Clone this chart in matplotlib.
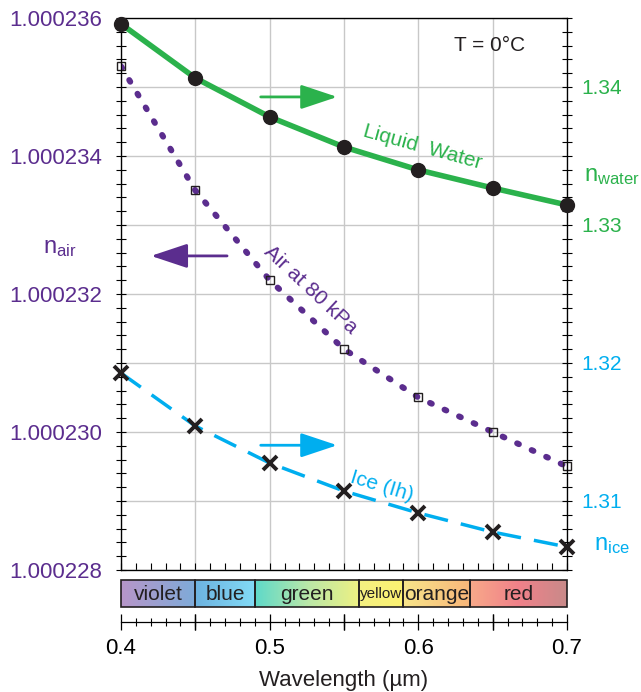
import numpy as np
import matplotlib
matplotlib.use('Agg')
import matplotlib.pyplot as plt
from matplotlib.patches import Rectangle
from matplotlib.ticker import MultipleLocator, FuncFormatter, FormatStrFormatter
from matplotlib.colors import LinearSegmentedColormap

plt.rcParams['font.family'] = ['Liberation Sans', 'DejaVu Sans']
plt.rcParams['mathtext.fontset'] = 'custom'
plt.rcParams['mathtext.rm'] = 'Liberation Sans'
plt.rcParams['mathtext.it'] = 'Liberation Sans'

### Data ###

wavelength = [0.40, 0.45, 0.50, 0.55, 0.60, 0.65, 0.70]

# refractive index of air at 80 kPa (left axis)
n_air = [1.0002353, 1.0002335, 1.0002322, 1.0002312, 1.0002305, 1.0002300, 1.0002295]

# liquid water and ice (right axis)
n_water = [1.34457, 1.34065, 1.33783, 1.33565, 1.33399, 1.33268, 1.33145]
n_ice = [1.31927, 1.31543, 1.31275, 1.31072, 1.30913, 1.30775, 1.30667]

# visible colour bands
band_names = ['violet', 'blue', 'green', 'yellow', 'orange', 'red']
band_edges = [0.40, 0.45, 0.49, 0.56, 0.59, 0.635, 0.70]
band_colors = [['#b796c9', '#7eabd9'],
               ['#6db3e0', '#82daf6'],
               ['#5fd9c9', '#b9e7a8', '#eef183'],
               ['#f4f082', '#fdf271'],
               ['#f8e58a', '#f8b67a'],
               ['#f8a98a', '#f08189', '#c98a8a']]

purple = '#5b2d8e'
green = '#2bb24c'
cyan = '#00aeef'
grid_c = '#c8c8c8'
dark = '#231f20'

### Figure ###

fig = plt.figure(figsize=(6.41, 6.92), dpi=100)
ax = fig.add_axes([0.1888, 0.1763, 0.6958, 0.7977])
ax2 = ax.twinx()

ax.set_xlim(0.4, 0.7)
ax.set_ylim(1.000228, 1.000236)
ax2.set_ylim(1.305, 1.345)

# grid
ax.xaxis.set_major_locator(MultipleLocator(0.05))
ax.xaxis.set_minor_locator(MultipleLocator(0.01))
ax.yaxis.set_major_locator(MultipleLocator(0.000001))
ax.yaxis.set_minor_locator(MultipleLocator(0.0000002))
ax.grid(True, which='major', color=grid_c, lw=1.0)
ax.set_axisbelow(True)
ax.tick_params(axis='x', which='both', direction='in', labelbottom=False, length=5, width=0.8)

def left_fmt(v, pos):
    k = int(round((v - 1.0) * 1e6))
    if k % 2 == 0:
        return '%.6f' % v
    return ''

ax.yaxis.set_major_formatter(FuncFormatter(left_fmt))
ax.tick_params(axis='y', which='both', direction='inout', length=7, width=0.8,
               labelsize=16, labelcolor=purple, pad=10)

ax2.yaxis.set_major_locator(MultipleLocator(0.005))
ax2.yaxis.set_minor_locator(MultipleLocator(0.001))

def right_fmt(v, pos):
    k = int(round(v * 1000))
    if k % 10 == 0:
        return '%.2f' % v
    return ''

ax2.yaxis.set_major_formatter(FuncFormatter(right_fmt))
ax2.tick_params(axis='y', which='both', direction='inout', length=7, width=0.8,
                labelsize=15, pad=7)
for lab in ax2.get_yticklabels():
    try:
        val = float(lab.get_text())
    except ValueError:
        continue
    lab.set_color(green if val > 1.325 else cyan)
for sp in ax.spines.values():
    sp.set_linewidth(0.9)

# series
ax2.plot(wavelength, n_water, color=green, lw=4, zorder=3)
ax2.plot(wavelength, n_water, 'o', color=dark, ms=10, zorder=4, clip_on=False)
ax.plot(wavelength, n_air, color=purple, lw=4.3, ls=(0, (0.33, 2.35)),
        dash_capstyle='round', zorder=3)
ax.plot(wavelength, n_air, 's', mfc='none', mec=dark, ms=6, mew=1.0, zorder=4, clip_on=False)
ax2.plot(wavelength, n_ice, color=cyan, lw=2.5, ls=(0, (7, 3.8)), zorder=3)
ax2.plot(wavelength, n_ice, 'x', color=dark, ms=10, mew=2.8, zorder=4, clip_on=False)

# annotations
arrow_kw = dict(arrowstyle='-|>,head_length=1.5,head_width=0.5', lw=2, mutation_scale=15)
ax.annotate('', xy=(0.491, 0.857), xytext=(0.307, 0.857), xycoords='axes fraction',
            arrowprops=dict(color=green, **arrow_kw))
ax.annotate('', xy=(0.061, 0.569), xytext=(0.244, 0.569), xycoords='axes fraction',
            arrowprops=dict(color=purple, **arrow_kw))
ax.annotate('', xy=(0.491, 0.226), xytext=(0.307, 0.226), xycoords='axes fraction',
            arrowprops=dict(color=cyan, **arrow_kw))

ax.text(0.827, 0.951, 'T = 0°C', transform=ax.transAxes, ha='center', va='center',
        fontsize=15, color=dark)
ax.text(0.675, 0.766, 'Liquid  Water', transform=ax.transAxes, ha='center', va='center',
        fontsize=15, color=green, rotation=-15.5)
ax.text(0.424, 0.507, 'Air at 80 kPa', transform=ax.transAxes, ha='center', va='center',
        fontsize=15, color=purple, rotation=-43)
ax.text(0.585, 0.152, 'Ice (Ih)', transform=ax.transAxes, ha='center', va='center',
        fontsize=15, color=cyan, rotation=-17)

fig.text(0.094, 0.642, r'n$_{\rm air}$', ha='center', va='center', fontsize=17, color=purple)
fig.text(0.955, 0.746, r'n$_{\rm water}$', ha='center', va='center', fontsize=17, color=green)
fig.text(0.955, 0.212, r'n$_{\rm ice}$', ha='center', va='center', fontsize=17, color=cyan)

### Colour band strip ###

cb = fig.add_axes([0.1888, 0.1228, 0.6958, 0.039])
cb.axis('off')
for i, name in enumerate(band_names):
    x0, x1 = band_edges[i], band_edges[i + 1]
    cmap = LinearSegmentedColormap.from_list(name, band_colors[i])
    cb.imshow(np.linspace(0, 1, 100).reshape(1, -1), cmap=cmap, aspect='auto',
              extent=(x0, x1, 0, 1), interpolation='bilinear')
    cb.add_patch(Rectangle((x0, 0), x1 - x0, 1, fill=False, ec=dark, lw=1.2, clip_on=False))
    fs = 11 if name == 'yellow' else 15
    cb.text((x0 + x1) / 2, 0.47, name, ha='center', va='center', fontsize=fs, color=dark)
cb.set_xlim(0.4, 0.7)
cb.set_ylim(0, 1)

### Wavelength axis ###

wx = fig.add_axes([0.1888, 0.1010, 0.6958, 0.0001])
wx.set_xlim(0.4, 0.7)
wx.set_yticks([])
for s in ['top', 'left', 'right']:
    wx.spines[s].set_visible(False)
wx.spines['bottom'].set_linewidth(0.9)
wx.xaxis.set_major_locator(MultipleLocator(0.1))
wx.xaxis.set_minor_locator(MultipleLocator(0.01))
wx.xaxis.set_major_formatter(FormatStrFormatter('%.1f'))
wx.tick_params(axis='x', which='major', direction='inout', length=11, width=0.9,
               labelsize=16, pad=6)
wx.tick_params(axis='x', which='minor', direction='inout', length=6, width=0.8)
for xv in [0.45, 0.55, 0.65]:
    wx.plot([xv, xv], [0, 0], marker='|', ms=11, mew=0.9, color='black', clip_on=False)
wx.set_xlabel('Wavelength (µm)', fontsize=16, color=dark, labelpad=8)

plt.savefig('out.png', dpi=100)
